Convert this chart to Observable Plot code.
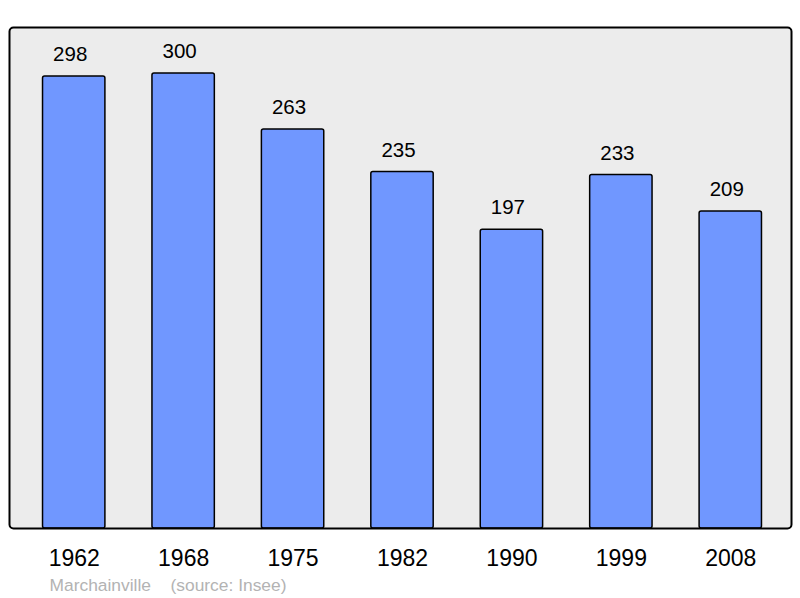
<!DOCTYPE html>
<html>
<head>
<meta charset="utf-8">
<script src="https://cdn.jsdelivr.net/npm/d3@7"></script>
<script src="https://cdn.jsdelivr.net/npm/@observablehq/plot@0.6"></script>
<style>
  html, body { margin: 0; padding: 0; background: #fff; }
  svg { display: block; }
</style>
</head>
<body>
<div id="chart"></div>
<script>
const years = ["1962", "1968", "1975", "1982", "1990", "1999", "2008"];
const population = [298, 300, 263, 235, 197, 233, 209];
const placeName = "Marchainville";
const sourceNote = "(source: Insee)";

const data = years.map((year, i) => ({year, pop: population[i]}));

const chart = Plot.plot({
  width: 800,
  height: 598,
  marginTop: 27,
  marginBottom: 70,
  marginLeft: 9,
  marginRight: 9,
  style: {fontFamily: "'Liberation Sans', Arial, sans-serif", background: "#fff"},
  x: {type: "band", domain: years, range: [19, 785], paddingInner: 0.43, paddingOuter: 0.215, align: 0.5, round: false, axis: null, label: null},
  y: {domain: [0, 330.3], axis: null},
  marks: [
    Plot.frame({fill: "#ececec", stroke: "none", rx: 4}),
    Plot.barY(data, {x: "year", y: "pop", fill: "#7097ff", stroke: "#000", strokeWidth: 1.5, rx: 2}),
    Plot.frame({stroke: "#000", strokeWidth: 2, rx: 4}),
    Plot.text(data, {x: "year", y: "pop", text: d => String(d.pop), dy: -22, dx: -4, fontSize: 20.5, fill: "#000"}),
    Plot.axisX({tickSize: 0, tickPadding: 21, fontSize: 23, color: "#000", label: null}),
    Plot.text([placeName], {frameAnchor: "bottom-left", text: d => d, textAnchor: "start", dx: 40, dy: 62, fontSize: 17.4, fill: "#b3b3b3"}),
    Plot.text([sourceNote], {frameAnchor: "bottom-left", text: d => d, textAnchor: "start", dx: 161, dy: 62, fontSize: 17.4, fill: "#b3b3b3"})
  ]
});
document.getElementById("chart").appendChild(chart);
</script>
</body>
</html>
